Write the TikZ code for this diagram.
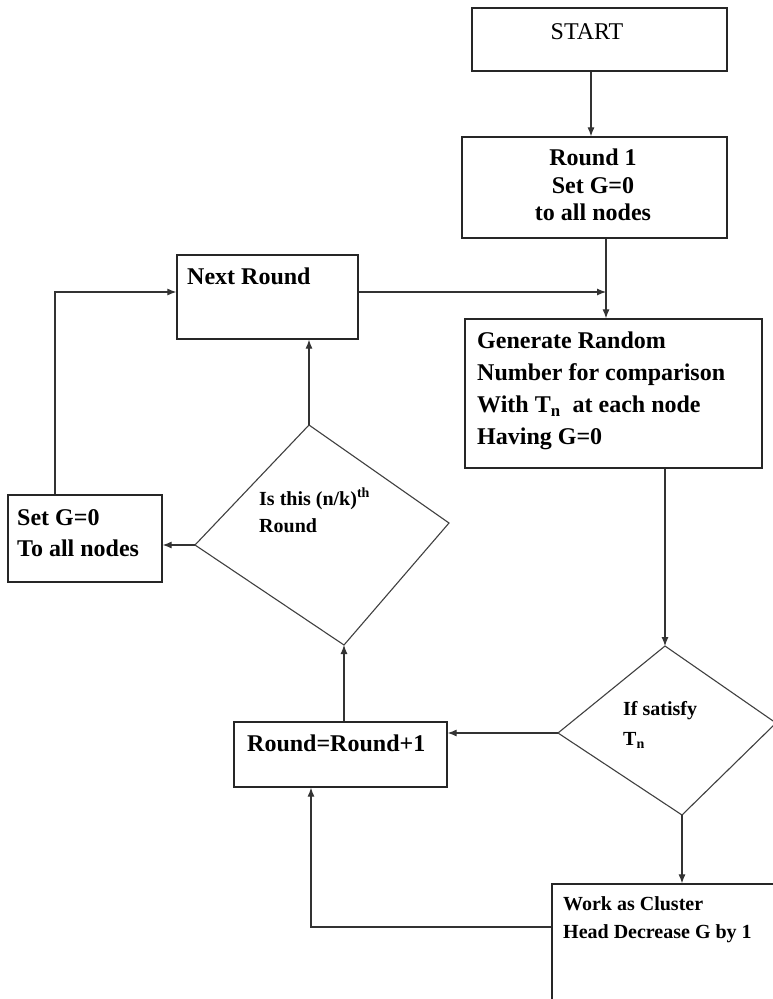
\documentclass[tikz,border=0pt]{standalone}
\usepackage{fontspec}
\setmainfont{Liberation Serif}
\usetikzlibrary{arrows.meta}
\begin{document}
\begin{tikzpicture}[x=1pt,y=-1pt,
    box/.style={draw=black!85,line width=1.3pt,inner sep=0pt},
    arr/.style={-{Latex[length=9pt,width=7pt]},line width=1.1pt,draw=black!80},
    txt/.style={inner sep=0pt,font=\fontsize{24}{32}\selectfont\bfseries},
    small/.style={inner sep=0pt,font=\fontsize{20}{27}\selectfont\bfseries}]
    \useasboundingbox[fill=white] (0,0) rectangle (772,999);
    \node[box,minimum width=255,minimum height=63] (start) at (599.5,39.5) {};
    \node[inner sep=0pt,font=\fontsize{24}{28}\selectfont] at (587,32) {START};
    \node[box,minimum width=265,minimum height=101] (round1) at (594.5,187.5) {};
    \node[txt,anchor=north,align=center,font=\fontsize{24}{27.5}\selectfont\bfseries] at (593,149) {Round 1\\Set G=0\\to all nodes};
    \node[box,minimum width=181,minimum height=84] (next) at (267.5,297) {};
    \node[txt,anchor=west] at (187,276) {Next Round};
    \node[box,minimum width=297,minimum height=149] (gen) at (613.5,393.5) {};
    \node[txt,anchor=north west,align=left] at (477,332) {Generate Random\\Number for comparison\\With T\textsubscript{n}~ at each node\\Having G=0};
    \node[box,minimum width=154,minimum height=87] (setg) at (85,538.5) {};
    \node[txt,anchor=north west,align=left,font=\fontsize{24}{31}\selectfont\bfseries] at (17,509) {Set G=0\\To all nodes};
    \node[box,minimum width=213,minimum height=65] (inc) at (340.5,754.5) {};
    \node[txt,anchor=west] at (247,743) {Round=Round+1};
    \node[box,minimum width=248,minimum height=136] (work) at (676,952) {};
    \node[small,anchor=north west,align=left,font=\fontsize{20}{28}\selectfont\bfseries] at (563,896) {Work as Cluster\\Head Decrease G by 1};
    \coordinate (d1t) at (309,425);
    \coordinate (d1r) at (449,523);
    \coordinate (d1b) at (344,645);
    \coordinate (d1l) at (195,545);
    \draw[line width=1.1pt,draw=black!75] (d1t) -- (d1r) -- (d1b) -- (d1l) -- cycle;
    \node[small,anchor=north west,align=left] at (259,488) {Is this (n/k)\textsuperscript{th}\\Round};
    \coordinate (d2t) at (665,646);
    \coordinate (d2r) at (776,723);
    \coordinate (d2b) at (682,815);
    \coordinate (d2l) at (558,733);
    \draw[line width=1.1pt,draw=black!75] (d2t) -- (d2r) -- (d2b) -- (d2l) -- cycle;
    \node[small,anchor=north west,align=left,font=\fontsize{20}{30}\selectfont\bfseries] at (623,701) {If satisfy\\T\textsubscript{n}};
    \coordinate (j1) at (606,292);
    \draw[arr] ([xshift=-8.5]start.south) -- ([xshift=-3.5]round1.north);
    \draw[arr] ([xshift=11.5]round1.south) -- ([xshift=-7.5]gen.north);
    \draw[arr] ([yshift=5]next.east) -- (j1);
    \draw[arr] ([xshift=51.5]gen.south) -- (d2t);
    \draw[arr] (d2l) -- (d2l -| inc.east);
    \draw[arr] (d2b) -- (d2b |- work.north);
    \draw[arr] ([yshift=25]work.west) -| ([xshift=-29.5]inc.south);
    \draw[arr] ([xshift=3.5]inc.north) -- (d1b);
    \draw[arr] (d1l) -- (d1l -| setg.east);
    \draw[arr] (d1t) -- (d1t |- next.south);
    \draw[arr] ([xshift=-30]setg.north) |- ([yshift=5]next.west);
\end{tikzpicture}
\end{document}
